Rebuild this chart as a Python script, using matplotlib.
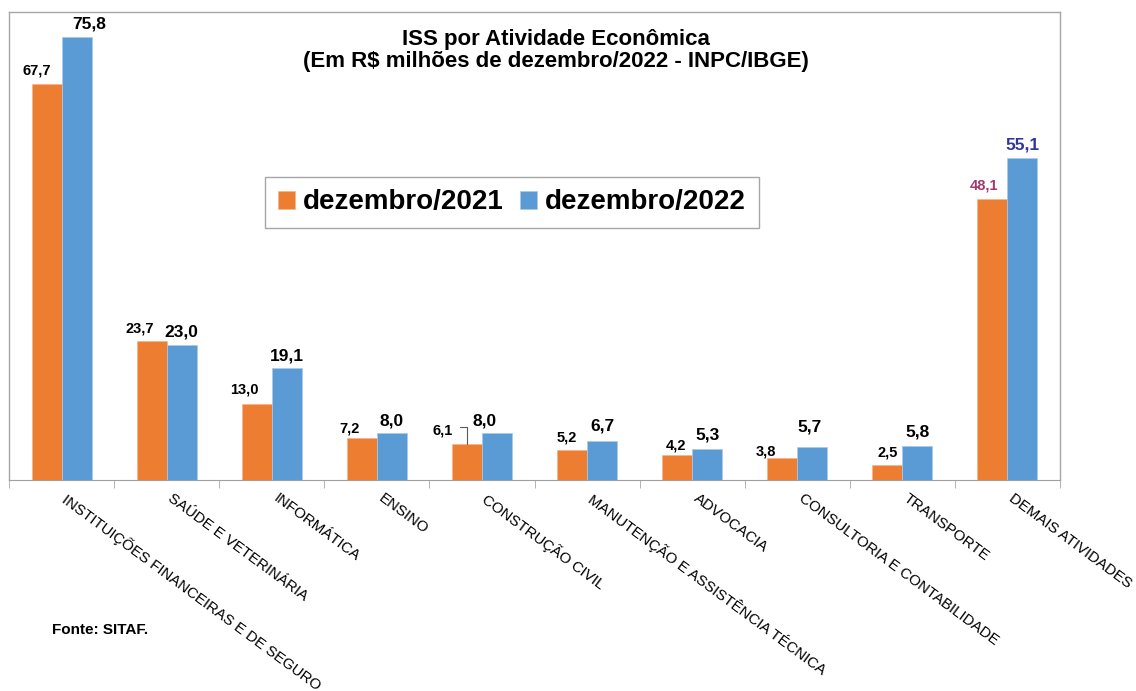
import numpy as np
import matplotlib
matplotlib.use("Agg")
import matplotlib.pyplot as plt
from matplotlib.transforms import ScaledTranslation

plt.rcParams['font.family'] = ['Liberation Sans', 'DejaVu Sans']

# data
categorias = ['INSTITUIÇÕES FINANCEIRAS E DE SEGURO', 'SAÚDE E VETERINÁRIA', 'INFORMÁTICA',
              'ENSINO', 'CONSTRUÇÃO CIVIL', 'MANUTENÇÃO E ASSISTÊNCIA TÉCNICA',
              'ADVOCACIA', 'CONSULTORIA E CONTABILIDADE', 'TRANSPORTE', 'DEMAIS ATIVIDADES']
dez2021 = [67.7, 23.7, 13.0, 7.2, 6.1, 5.2, 4.2, 3.8, 2.5, 48.1]
dez2022 = [75.8, 23.0, 19.1, 8.0, 8.0, 6.7, 5.3, 5.7, 5.8, 55.1]
series = ['dezembro/2021', 'dezembro/2022']

# label nudges in pixels (dx, gap above bar)
off21 = [(-10, 9), (-12, 9), (-12, 10), (-12, 5), (-24, 10), (-5, 8), (-1, 6), (-16, 2), (0, 9), (-8, 9)]
off22 = [(13, 8), (0, 9), (0, 8), (0, 8), (-12, 8), (0, 10), (0, 9), (-3, 15), (0, 10), (0, 8)]

laranja = '#ED7D31'
azul = '#5B9BD5'
cinza = '#A6A6A6'

W, H = 1136, 691
fig = plt.figure(figsize=(W / 100, H / 100), dpi=100)
ax = fig.add_axes([9 / W, (H - 480) / H, (1060 - 9) / W, (480 - 12) / H])

x = np.arange(len(categorias))
w = 0.285
ax.bar(x - w / 2, dez2021, w, color=laranja, edgecolor='#F6B48A', linewidth=0.5, label=series[0])
ax.bar(x + w / 2, dez2022, w, color=azul, edgecolor='#A9CBEA', linewidth=0.5, label=series[1])

ax.set_xlim(-0.5, len(categorias) - 0.5)
ax.set_ylim(0, 80)
ax.set_yticks([])

ax.set_xticks(x, categorias, rotation=-36.5, ha='left', va='top', rotation_mode='anchor', fontsize=10.8)
ax.set_xticks(np.arange(-0.5, len(categorias), 1), minor=True)
ax.tick_params(axis='x', which='major', length=0, pad=8)
ax.tick_params(axis='x', which='minor', length=6, color=cinza, direction='out')
shift = ScaledTranslation(7 / 100, 0, fig.dpi_scale_trans)
for lab in ax.get_xticklabels():
    lab.set_transform(lab.get_transform() + shift)

for s in ['left', 'right', 'top']:
    ax.spines[s].set_color(cinza)
    ax.spines[s].set_linewidth(1.0)
ax.spines['bottom'].set_color('#A0A0A0')

# value labels
for i, v in enumerate(dez2021):
    dx, dy = off21[i]
    cor = '#A3386B' if i == len(dez2021) - 1 else 'black'
    txt = f'{v:.1f}'.replace('.', ',')
    if i == 4:
        ax.annotate(txt, xy=(x[i] - w / 2, v), xytext=(dx, dy), textcoords='offset pixels',
                    ha='center', va='baseline', fontsize=10.5, fontweight='bold', color=cor,
                    arrowprops=dict(arrowstyle='-', color='#595959', lw=0.8,
                                    connectionstyle='angle,angleA=0,angleB=90,rad=0',
                                    relpos=(1, 0.75), shrinkA=3, shrinkB=0))
    else:
        ax.annotate(txt, xy=(x[i] - w / 2, v), xytext=(dx, dy), textcoords='offset pixels',
                    ha='center', va='baseline', fontsize=10.5, fontweight='bold', color=cor)

for i, v in enumerate(dez2022):
    dx, dy = off22[i]
    cor = '#2F3699' if i == len(dez2022) - 1 else 'black'
    txt = f'{v:.1f}'.replace('.', ',')
    ax.annotate(txt, xy=(x[i] + w / 2, v), xytext=(dx, dy), textcoords='offset pixels',
                ha='center', va='baseline', fontsize=12.5, fontweight='bold', color=cor)

fig.text(556 / W, 1 - 29 / H, 'ISS por Atividade Econômica\n(Em R$ milhões de dezembro/2022 - INPC/IBGE)',
         ha='center', va='top', fontsize=16, fontweight='bold', linespacing=1.05)

leg = ax.legend(loc='center', bbox_to_anchor=(512 / W, 1 - 202.5 / H), bbox_transform=fig.transFigure,
                ncol=2, prop={'size': 20, 'weight': 'bold'}, handlelength=0.6, handleheight=0.6,
                handletextpad=0.3, columnspacing=0.6, borderpad=0.45, fancybox=False,
                framealpha=1, edgecolor=cinza)
leg.get_frame().set_linewidth(1.0)

fig.text(52 / W, 1 - 630 / H, 'Fonte: SITAF.', ha='left', va='center', fontsize=11, fontweight='bold')

fig.savefig('out.png', dpi=100)
